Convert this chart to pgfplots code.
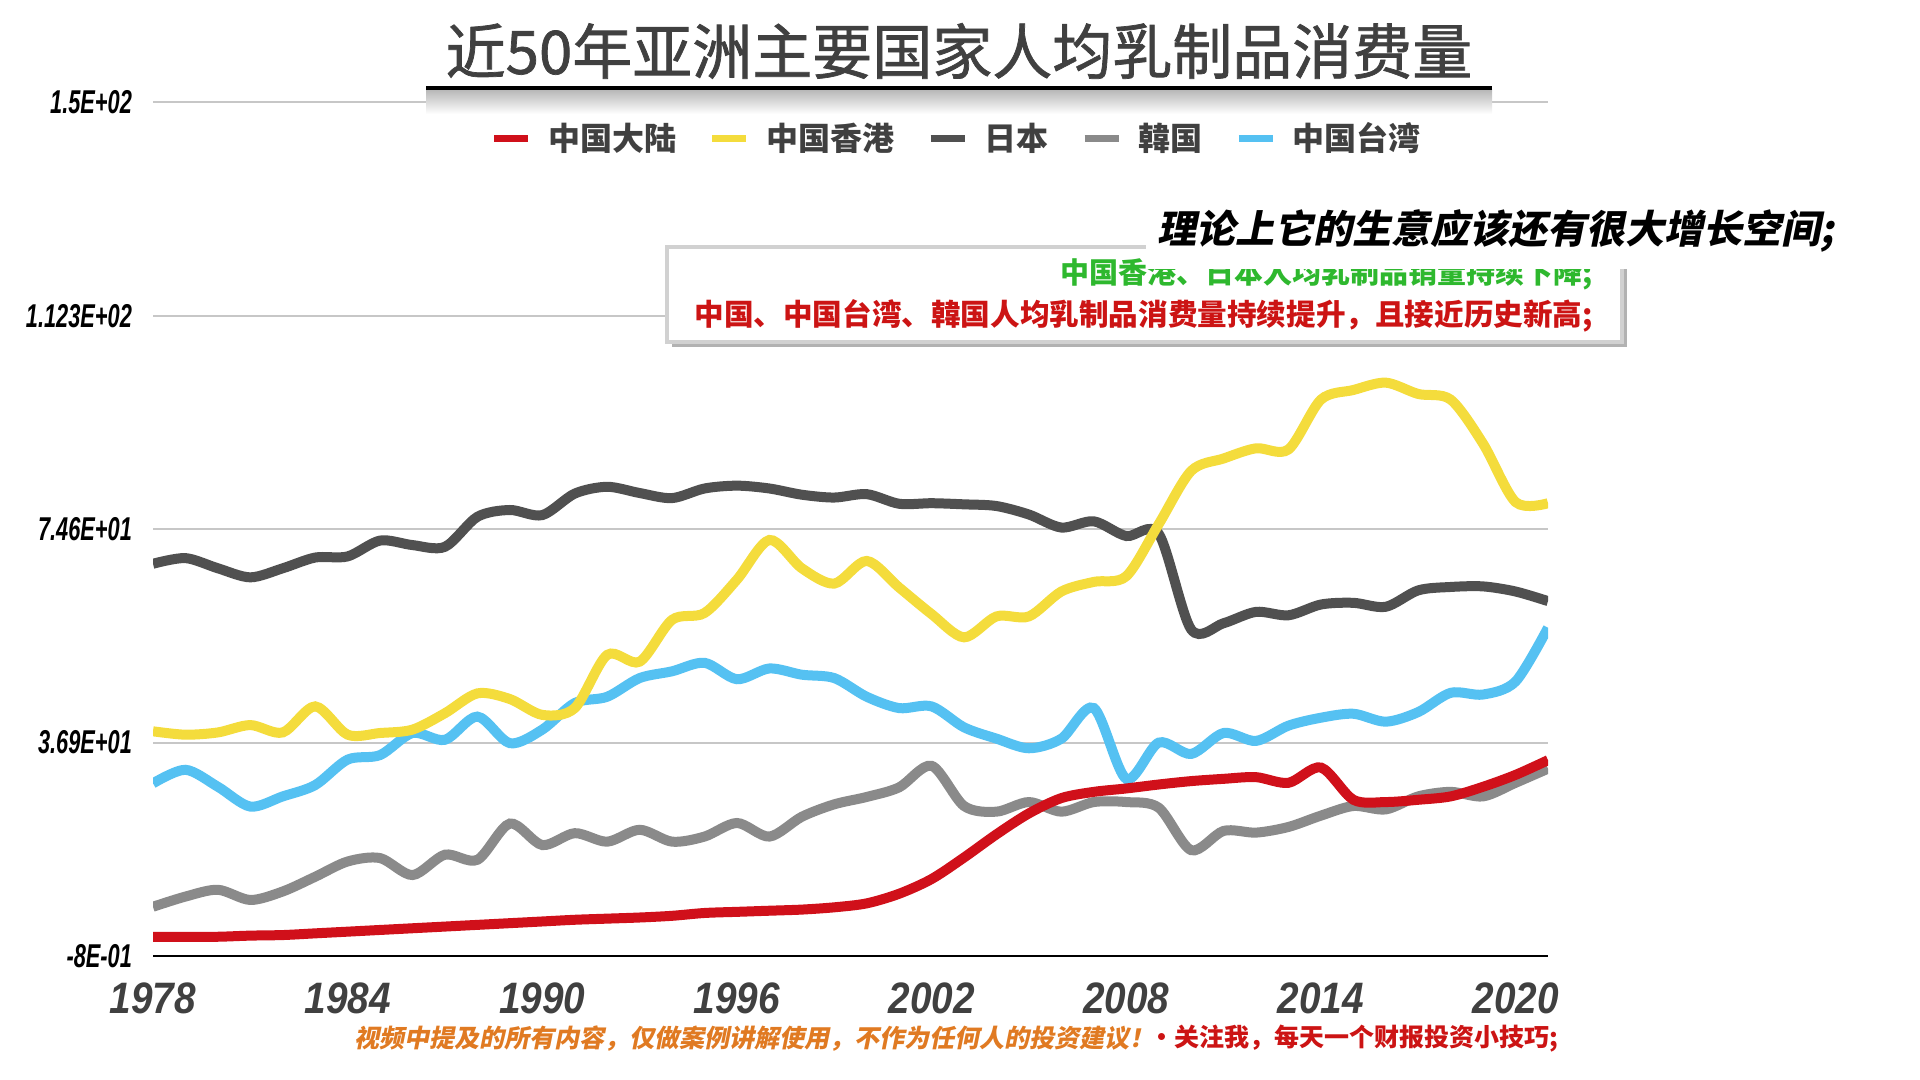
\documentclass[border=0pt]{standalone}
\usepackage{fontspec}
\usepackage{pgfplots}
\pgfplotsset{compat=1.18}
\setmainfont{Liberation Sans}
\newfontfamily\cjk{Noto Sans CJK SC}
\newfontfamily\cjktitle{Noto Sans CJK SC}[FakeBold=1.2]
\newfontfamily\cjkit{Noto Sans CJK SC}[FakeSlant=0.2]
\newfontfamily\numx{Liberation Sans}[FakeStretch=0.88]
\newfontfamily\numy{Liberation Sans}[FakeStretch=0.66]

\definecolor{cnred}{HTML}{D0101A}
\definecolor{hkyel}{HTML}{F4DC3C}
\definecolor{jpdark}{HTML}{505050}
\definecolor{krgray}{HTML}{8A8A8A}
\definecolor{twblue}{HTML}{55C1F2}
\definecolor{txtgray}{HTML}{404040}
\definecolor{notegreen}{HTML}{2EB82E}
\definecolor{notered}{HTML}{CC1414}
\definecolor{footorange}{HTML}{E07A22}

\begin{document}
\begin{tikzpicture}
\useasboundingbox (0,0) rectangle (960pt,540pt);
\begin{axis}[
    at={(76.5pt,62pt)}, anchor=south west,
    scale only axis, width=697.5pt, height=426.75pt,
    xmin=1978, xmax=2021, ymin=-0.8, ymax=150,
    axis x line*=bottom, axis y line*=left,
    x axis line style={draw=black, line width=0.8pt, -},
    y axis line style={draw=none},
    major tick length=0pt,
    xtick={1978,1984,1990,1996,2002,2008,2014,2020},
    xticklabels={1978,1984,1990,1996,2002,2008,2014,2020},
    ytick={-0.8,36.9,74.6,112.3,150},
    yticklabels={-8E-01,3.69E+01,7.46E+01,1.123E+02,1.5E+02},
    ymajorgrids,
    grid style={draw=black!22, line width=1pt},
    xticklabel style={font=\numx\bfseries\itshape\fontsize{22}{22}\selectfont, text=txtgray, yshift=-10pt},
    yticklabel style={font=\numy\bfseries\itshape\fontsize{16.5}{16.5}\selectfont, text=black, xshift=-7pt},
    legend columns=5,
    legend image code/.code={\draw[#1, line width=3.2pt] (0pt,0pt) -- (17pt,0pt); \path[draw=none, fill=none] (0pt,0pt) -- (25pt,0pt);},
    legend style={at={(0.577,0.958)}, anchor=center, draw=none, fill=none,
        font=\cjk\bfseries\fontsize{16}{16}\selectfont, text=txtgray,
        /tikz/every even column/.append style={column sep=14.5pt}},
    legend cell align=left,
]
\addlegendimage{cnred}
\addlegendentry{中国大陆}
\addlegendimage{hkyel}
\addlegendentry{中国香港}
\addlegendimage{jpdark}
\addlegendentry{日本}
\addlegendimage{krgray}
\addlegendentry{韓国}
\addlegendimage{twblue}
\addlegendentry{中国台湾}

% 韩国
\addplot[krgray, line width=5pt, smooth, forget plot] coordinates {
(1978,7.9) (1979,9.7) (1980,10.9) (1981,9.1) (1982,10.6) (1983,13.2)
(1984,15.9) (1985,16.5) (1986,13.5) (1987,17.1) (1988,16.2) (1989,22.6)
(1990,18.8) (1991,20.9) (1992,19.4) (1993,21.5) (1994,19.4) (1995,20.3)
(1996,22.7) (1997,20.3) (1998,23.8) (1999,26.0) (2000,27.3) (2001,29.0)
(2002,32.8) (2003,25.7) (2004,24.7) (2005,26.4) (2006,24.7) (2007,26.4)
(2008,26.4) (2009,25.4) (2010,17.9) (2011,21.3) (2012,21.0) (2013,22.0)
(2014,24.0) (2015,25.7) (2016,25.1) (2017,27.4) (2018,28.2) (2019,27.4)
(2020,29.8) (2021,32.3)
};
% 日本
\addplot[jpdark, line width=5pt, smooth, forget plot] coordinates {
(1978,68.5) (1979,69.5) (1980,67.7) (1981,66.1) (1982,67.7) (1983,69.6)
(1984,69.8) (1985,72.6) (1986,71.8) (1987,71.5) (1988,76.8) (1989,78.0)
(1990,77.1) (1991,80.9) (1992,82.1) (1993,81.0) (1994,80.1) (1995,81.8)
(1996,82.3) (1997,81.8) (1998,80.7) (1999,80.2) (2000,80.8) (2001,79.1)
(2002,79.2) (2003,79.0) (2004,78.7) (2005,77.2) (2006,74.9) (2007,76.0)
(2008,73.4) (2009,73.8) (2010,56.9) (2011,58.0) (2012,60.0) (2013,59.4)
(2014,61.3) (2015,61.6) (2016,60.9) (2017,63.8) (2018,64.4) (2019,64.5)
(2020,63.6) (2021,61.9)
};
% 中国台湾
\addplot[twblue, line width=5pt, smooth, forget plot] coordinates {
(1978,29.7) (1979,32.1) (1980,29.1) (1981,25.6) (1982,27.4) (1983,29.4)
(1984,33.9) (1985,34.7) (1986,38.6) (1987,37.4) (1988,41.5) (1989,36.8)
(1990,39.2) (1991,43.9) (1992,45.0) (1993,48.3) (1994,49.5) (1995,51.0)
(1996,48.1) (1997,50.0) (1998,48.9) (1999,48.3) (2000,45.0) (2001,43.0)
(2002,43.3) (2003,39.6) (2004,37.6) (2005,35.9) (2006,37.6) (2007,43.0)
(2008,30.5) (2009,36.9) (2010,34.9) (2011,38.6) (2012,37.2) (2013,39.9)
(2014,41.3) (2015,42.0) (2016,40.6) (2017,42.3) (2018,45.7) (2019,45.4)
(2020,47.7) (2021,57.2)
};
% 中国香港
\addplot[hkyel, line width=5pt, smooth, forget plot] coordinates {
(1978,38.9) (1979,38.3) (1980,38.7) (1981,40.0) (1982,38.7) (1983,43.3)
(1984,38.3) (1985,38.6) (1986,39.2) (1987,42.1) (1988,45.6) (1989,44.6)
(1990,41.8) (1991,43.0) (1992,52.4) (1993,51.2) (1994,58.6) (1995,59.8)
(1996,65.7) (1997,72.7) (1998,67.7) (1999,65.0) (2000,69.0) (2001,64.3)
(2002,59.6) (2003,55.5) (2004,59.2) (2005,59.2) (2006,63.6) (2007,65.3)
(2008,66.3) (2009,75.5) (2010,84.9) (2011,87.1) (2012,88.9) (2013,88.7)
(2014,97.5) (2015,99.2) (2016,100.5) (2017,98.5) (2018,97.5) (2019,89.7)
(2020,79.4) (2021,79.2)
};
% 中国大陆
\addplot[cnred, line width=5pt, smooth, forget plot] coordinates {
(1978,2.6) (1979,2.6) (1980,2.6) (1981,2.8) (1982,2.9) (1983,3.2)
(1984,3.5) (1985,3.8) (1986,4.1) (1987,4.4) (1988,4.7) (1989,5.0)
(1990,5.3) (1991,5.6) (1992,5.8) (1993,6.0) (1994,6.3) (1995,6.8)
(1996,7.0) (1997,7.2) (1998,7.4) (1999,7.8) (2000,8.5) (2001,10.2)
(2002,12.8) (2003,16.6) (2004,20.7) (2005,24.4) (2006,27.1) (2007,28.2)
(2008,28.8) (2009,29.5) (2010,30.1) (2011,30.5) (2012,30.8) (2013,29.8)
(2014,32.5) (2015,26.8) (2016,26.4) (2017,26.8) (2018,27.4) (2019,29.1)
(2020,31.2) (2021,33.8)
};
\end{axis}

% title
\node[text=txtgray, font=\cjktitle\fontsize{30}{30}\selectfont] at (479.5pt,514.5pt) {近50年亚洲主要国家人均乳制品消费量};
\shade[top color=black!28, bottom color=white] (213pt,495pt) rectangle (746pt,483pt);
\draw[black, line width=2pt] (213pt,496pt) -- (746pt,496pt);

% note box
\fill[black!30] (336pt,366.5pt) rectangle (813.5pt,413pt);
\draw[black!18, line width=2pt, fill=white] (333.7pt,369pt) rectangle (811pt,416.3pt);
\node[anchor=east, text=notegreen, font=\cjk\bfseries\fontsize{14.5}{14.5}\selectfont] at (800pt,403pt) {中国香港、日本人均乳制品销量持续下降;};
\node[anchor=east, text=notered, font=\cjk\bfseries\fontsize{14.8}{14.8}\selectfont] at (800pt,382pt) {中国、中国台湾、韓国人均乳制品消费量持续提升，且接近历史新高;};
\fill[white] (573pt,405.3pt) rectangle (925pt,442pt);
\node[anchor=west, font=\cjkit\bfseries\fontsize{19.5}{19.5}\selectfont] at (575pt,424.5pt) {理论上它的生意应该还有很大增长空间;};

% footer
\node[anchor=west, text=footorange, font=\cjkit\bfseries\fontsize{12.5}{12.5}\selectfont] at (173.5pt,20.8pt) {视频中提及的所有内容，仅做案例讲解使用，不作为任何人的投资建议！};
\node[anchor=west, text=notered, font=\cjk\bfseries\fontsize{12.5}{12.5}\selectfont] at (571pt,20.8pt) {·关注我，每天一个财报投资小技巧;};
\end{tikzpicture}
\end{document}
